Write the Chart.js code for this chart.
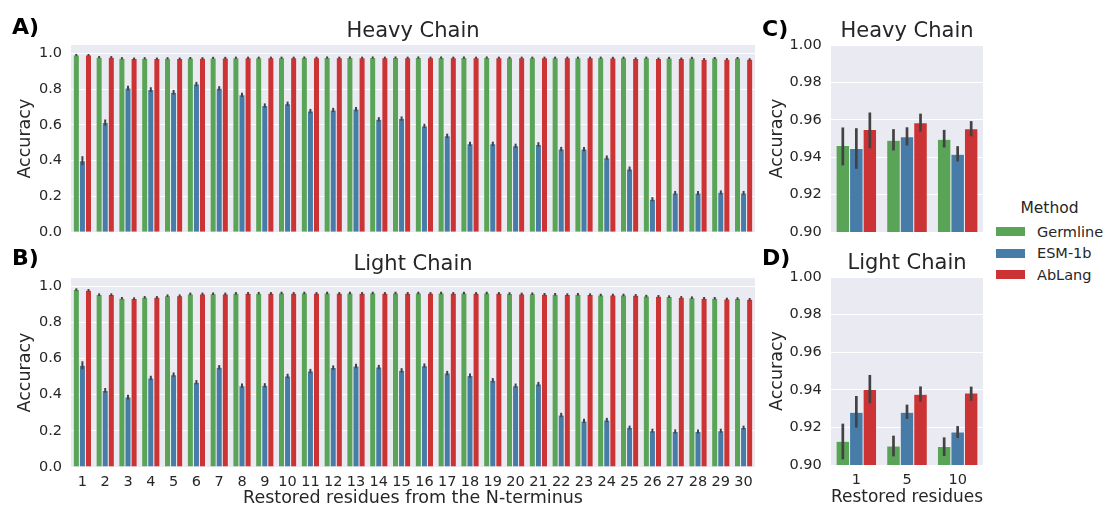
<!DOCTYPE html>
<html>
<head>
<meta charset="utf-8">
<script src="https://cdn.jsdelivr.net/npm/chart.js@4"></script>
<style>
  html, body { margin: 0; padding: 0; background: #ffffff; }
  body { width: 1105px; height: 509px; position: relative; overflow: hidden; font-family: "DejaVu Sans", sans-serif; color: #262626; }
  canvas { position: absolute; }
  .plabel { position: absolute; font-family: "DejaVu Sans", sans-serif; font-weight: bold; font-size: 22px; line-height: 22px; color: #000; }
  #legend { position: absolute; left: 994px; top: 198px; width: 111px; font-family: "DejaVu Sans", sans-serif; color: #262626; }
  #legend .ltitle { font-size: 15.5px; line-height: 20px; text-align: center; margin-left: 0px; margin-bottom: 3px; }
  #legend .item { display: flex; align-items: center; height: 21.5px; font-size: 14.5px; }
  #legend .sw { width: 29px; height: 9px; margin-right: 12px; margin-left: 2px; }
</style>
</head>
<body>
<canvas id="cA" width="760" height="250" style="left:0px;top:0px;"></canvas>
<canvas id="cB" width="760" height="259" style="left:0px;top:250px;"></canvas>
<canvas id="cC" width="230" height="250" style="left:760px;top:0px;"></canvas>
<canvas id="cD" width="230" height="259" style="left:760px;top:250px;"></canvas>
<div class="plabel" style="left:12px;top:16px;">A)</div>
<div class="plabel" style="left:12px;top:247px;">B)</div>
<div class="plabel" style="left:762px;top:18px;">C)</div>
<div class="plabel" style="left:762px;top:247px;">D)</div>
<div id="legend"></div>
<script>
// ---------------- DATA ----------------
const residues = ['1','2','3','4','5','6','7','8','9','10','11','12','13','14','15','16','17','18','19','20','21','22','23','24','25','26','27','28','29','30'];
const methods = ['Germline','ESM-1b','AbLang'];
const methodColors = ['#5aa457','#477ca8','#cb3335'];

// Panel A: Heavy chain per residue
const heavyGermline = [0.990,0.978,0.972,0.972,0.972,0.973,0.974,0.975,0.975,0.975,0.976,0.976,0.976,0.976,0.976,0.976,0.976,0.976,0.976,0.975,0.975,0.975,0.975,0.975,0.975,0.975,0.974,0.974,0.973,0.973];
const heavyEsm      = [0.400,0.613,0.806,0.797,0.782,0.828,0.804,0.768,0.708,0.718,0.677,0.683,0.688,0.631,0.635,0.594,0.539,0.494,0.494,0.483,0.491,0.465,0.465,0.417,0.354,0.185,0.220,0.220,0.223,0.220];
const heavyAblang   = [0.990,0.978,0.970,0.970,0.970,0.972,0.974,0.975,0.975,0.975,0.975,0.975,0.975,0.975,0.975,0.975,0.975,0.975,0.975,0.975,0.975,0.975,0.975,0.974,0.971,0.970,0.970,0.967,0.967,0.966];
const heavyGermlineErr = [0.006,0.006,0.006,0.006,0.006,0.006,0.006,0.006,0.006,0.006,0.006,0.006,0.006,0.006,0.006,0.006,0.006,0.006,0.006,0.006,0.006,0.006,0.006,0.006,0.006,0.006,0.006,0.006,0.006,0.006];
const heavyEsmErr      = [0.025,0.017,0.013,0.013,0.013,0.012,0.012,0.012,0.012,0.012,0.012,0.012,0.012,0.012,0.012,0.012,0.012,0.012,0.012,0.012,0.012,0.012,0.012,0.012,0.013,0.011,0.011,0.011,0.011,0.011];
const heavyAblangErr   = [0.006,0.006,0.006,0.006,0.006,0.006,0.006,0.006,0.006,0.006,0.006,0.006,0.006,0.006,0.006,0.006,0.006,0.006,0.006,0.006,0.006,0.006,0.006,0.006,0.006,0.006,0.006,0.006,0.006,0.006];

// Panel B: Light chain per residue
const lightGermline = [0.982,0.954,0.934,0.939,0.948,0.958,0.959,0.961,0.962,0.963,0.963,0.963,0.963,0.963,0.963,0.963,0.963,0.963,0.963,0.960,0.959,0.956,0.956,0.952,0.952,0.946,0.943,0.937,0.934,0.932];
const lightEsm      = [0.563,0.424,0.387,0.493,0.511,0.469,0.552,0.450,0.452,0.504,0.531,0.550,0.559,0.553,0.535,0.561,0.520,0.506,0.480,0.450,0.459,0.288,0.255,0.260,0.218,0.201,0.197,0.197,0.201,0.218];
const lightAblang   = [0.978,0.954,0.932,0.939,0.948,0.958,0.958,0.961,0.961,0.961,0.961,0.961,0.961,0.961,0.961,0.961,0.961,0.961,0.961,0.958,0.956,0.954,0.954,0.952,0.950,0.945,0.939,0.934,0.930,0.928];
const lightGermlineErr = [0.007,0.007,0.007,0.007,0.007,0.007,0.007,0.007,0.007,0.007,0.007,0.007,0.007,0.007,0.007,0.007,0.007,0.007,0.007,0.007,0.007,0.007,0.007,0.007,0.007,0.007,0.007,0.007,0.007,0.007];
const lightEsmErr      = [0.022,0.013,0.013,0.012,0.012,0.012,0.012,0.012,0.012,0.012,0.012,0.012,0.012,0.012,0.012,0.012,0.012,0.012,0.012,0.012,0.012,0.012,0.012,0.012,0.011,0.011,0.011,0.011,0.011,0.011];
const lightAblangErr   = [0.007,0.007,0.007,0.007,0.007,0.007,0.007,0.007,0.007,0.007,0.007,0.007,0.007,0.007,0.007,0.007,0.007,0.007,0.007,0.007,0.007,0.007,0.007,0.007,0.007,0.007,0.007,0.007,0.007,0.007];

// Panels C/D: restored residues 1, 5, 10
const restored = ['1','5','10'];
const heavySumGermline = [0.9463,0.9491,0.9496];
const heavySumGermlineLo = [0.9356,0.9436,0.9452];
const heavySumGermlineHi = [0.9559,0.9550,0.9546];
const heavySumEsm = [0.9447,0.9509,0.9416];
const heavySumEsmLo = [0.9338,0.9463,0.9377];
const heavySumEsmHi = [0.9555,0.9560,0.9459];
const heavySumAblang = [0.9548,0.9584,0.9552];
const heavySumAblangLo = [0.9448,0.9537,0.9512];
const heavySumAblangHi = [0.9639,0.9633,0.9593];

const lightSumGermline = [0.9126,0.9101,0.9099];
const lightSumGermlineLo = [0.9030,0.9046,0.9048];
const lightSumGermlineHi = [0.9220,0.9156,0.9147];
const lightSumEsm = [0.9280,0.9280,0.9176];
const lightSumEsmLo = [0.9199,0.9245,0.9144];
const lightSumEsmHi = [0.9367,0.9321,0.9207];
const lightSumAblang = [0.9401,0.9376,0.9383];
const lightSumAblangLo = [0.9328,0.9337,0.9342];
const lightSumAblangHi = [0.9479,0.9418,0.9417];

const fullTicks = [0, 0.2, 0.4, 0.6, 0.8, 1.0];
const zoomTicks = [0.90, 0.92, 0.94, 0.96, 0.98, 1.00];

// ---------------- STYLE / PLUGINS ----------------
const FONT = '"DejaVu Sans", sans-serif';
const TXT = '#262626';

const bgPlugin = {
  id: 'bgPlugin',
  beforeDraw(chart) {
    const a = chart.chartArea, ctx = chart.ctx;
    ctx.save();
    ctx.fillStyle = '#eaeaf2';
    ctx.fillRect(a.left, a.top, a.right - a.left, a.bottom - a.top);
    ctx.restore();
  }
};

const errPlugin = {
  id: 'errPlugin',
  afterDatasetsDraw(chart, args, opts) {
    const ctx = chart.ctx, ys = chart.scales.y;
    ctx.save();
    ctx.strokeStyle = '#424242';
    ctx.lineWidth = opts.width || 2;
    ctx.lineCap = 'butt';
    chart.data.datasets.forEach((ds, i) => {
      const meta = chart.getDatasetMeta(i);
      meta.data.forEach((el, j) => {
        let lo, hi;
        if (ds.errLo) { lo = ds.errLo[j]; hi = ds.errHi[j]; }
        else { lo = ds.data[j] - ds.err[j]; hi = ds.data[j] + ds.err[j]; }
        ctx.beginPath();
        ctx.moveTo(el.x, ys.getPixelForValue(lo));
        ctx.lineTo(el.x, ys.getPixelForValue(hi));
        ctx.stroke();
      });
    });
    ctx.restore();
  }
};

function makeDatasets(vals, errs, los, his) {
  return methods.map((m, i) => {
    const d = {
      label: m,
      data: vals[i],
      backgroundColor: methodColors[i],
      borderColor: 'rgba(255,255,255,0.6)',
      borderWidth: 0.5,
      categoryPercentage: 0.8,
      barPercentage: 1.0
    };
    if (errs) d.err = errs[i];
    if (los) { d.errLo = los[i]; d.errHi = his[i]; }
    return d;
  });
}

function makeChart(id, cfg) {
  const yScale = {
    min: cfg.ymin, max: cfg.ymax,
    afterBuildTicks: (s) => { s.ticks = cfg.ticks.map(v => ({ value: v })); },
    afterFit: (s) => { s.width = 71; },
    grid: { color: '#ffffff', lineWidth: 1, drawTicks: false },
    border: { display: false },
    ticks: {
      padding: cfg.ytickPad, color: TXT, font: { family: FONT, size: 14.5 },
      callback: (v) => v.toFixed(cfg.dec)
    },
    title: { display: true, text: 'Accuracy', color: TXT, font: { family: FONT, size: 17.5 }, padding: { top: cfg.ytitlePad, bottom: 0 } }
  };
  const xScale = cfg.showX ? {
    afterFit: (s) => { s.height = cfg.xHeight; },
    grid: { display: false, drawTicks: false },
    border: { display: false },
    ticks: { padding: cfg.xtickPad, color: TXT, font: { family: FONT, size: 14.5 }, autoSkip: false, maxRotation: 0 },
    title: { display: true, text: cfg.xtitle, color: TXT, font: { family: FONT, size: 17.5 }, padding: { top: 0, bottom: cfg.xtitlePadB } }
  } : { display: false };
  // top axis carries the panel title so it is centred over the plot area
  const topScale = {
    type: 'category', position: 'top', labels: cfg.labels,
    afterFit: (s) => { s.height = cfg.topHeight; },
    grid: { display: false, drawTicks: false },
    border: { display: false },
    ticks: { display: false },
    title: { display: true, text: cfg.title, color: TXT, font: { family: FONT, size: 21 }, padding: { top: cfg.titlePadTop, bottom: 0 } }
  };
  return new Chart(document.getElementById(id), {
    type: 'bar',
    data: { labels: cfg.labels, datasets: cfg.datasets },
    options: {
      responsive: false,
      animation: false,
      devicePixelRatio: 1,
      layout: { padding: { left: 0, right: cfg.padR, top: 0, bottom: cfg.padB } },
      scales: { x: xScale, y: yScale, xTop: topScale },
      plugins: {
        legend: { display: false },
        tooltip: { enabled: false },
        title: { display: false },
        errPlugin: { width: cfg.errWidth }
      }
    },
    plugins: [bgPlugin, errPlugin]
  });
}

makeChart('cA', {
  labels: residues,
  datasets: makeDatasets([heavyGermline, heavyEsm, heavyAblang], [heavyGermlineErr, heavyEsmErr, heavyAblangErr]),
  ymin: 0, ymax: 1.046, ticks: fullTicks, dec: 1, ytickPad: 9, ytitlePad: 15,
  showX: false, padR: 5, padB: 16,
  title: 'Heavy Chain', topHeight: 45, titlePadTop: 19.4, errWidth: 2
});

makeChart('cB', {
  labels: residues,
  datasets: makeDatasets([lightGermline, lightEsm, lightAblang], [lightGermlineErr, lightEsmErr, lightAblangErr]),
  ymin: 0, ymax: 1.046, ticks: fullTicks, dec: 1, ytickPad: 9, ytitlePad: 15,
  showX: true, xHeight: 42, xtickPad: 6.5, xtitle: 'Restored residues from the N-terminus', xtitlePadB: 0,
  padR: 5, padB: 0,
  title: 'Light Chain', topHeight: 28, titlePadTop: 2.4, errWidth: 2
});

makeChart('cC', {
  labels: restored,
  datasets: makeDatasets([heavySumGermline, heavySumEsm, heavySumAblang], null,
    [heavySumGermlineLo, heavySumEsmLo, heavySumAblangLo], [heavySumGermlineHi, heavySumEsmHi, heavySumAblangHi]),
  ymin: 0.9, ymax: 1.0, ticks: zoomTicks, dec: 2, ytickPad: 9.3, ytitlePad: 7.4,
  showX: false, padR: 7, padB: 18,
  title: 'Heavy Chain', topHeight: 45, titlePadTop: 19.4, errWidth: 2.7
});

makeChart('cD', {
  labels: restored,
  datasets: makeDatasets([lightSumGermline, lightSumEsm, lightSumAblang], null,
    [lightSumGermlineLo, lightSumEsmLo, lightSumAblangLo], [lightSumGermlineHi, lightSumEsmHi, lightSumAblangHi]),
  ymin: 0.9, ymax: 1.0, ticks: zoomTicks, dec: 2, ytickPad: 9.3, ytitlePad: 7.4,
  showX: true, xHeight: 44, xtickPad: 7, xtitle: 'Restored residues', xtitlePadB: 1,
  padR: 7, padB: 0,
  title: 'Light Chain', topHeight: 27, titlePadTop: 1.4, errWidth: 2.7
});

// Legend (HTML)
const lg = document.getElementById('legend');
const t = document.createElement('div'); t.className = 'ltitle'; t.textContent = 'Method'; lg.appendChild(t);
methods.forEach((m, i) => {
  const it = document.createElement('div'); it.className = 'item';
  const sw = document.createElement('span'); sw.className = 'sw'; sw.style.background = methodColors[i];
  const tx = document.createElement('span'); tx.textContent = m;
  it.appendChild(sw); it.appendChild(tx); lg.appendChild(it);
});
</script>
</body>
</html>
